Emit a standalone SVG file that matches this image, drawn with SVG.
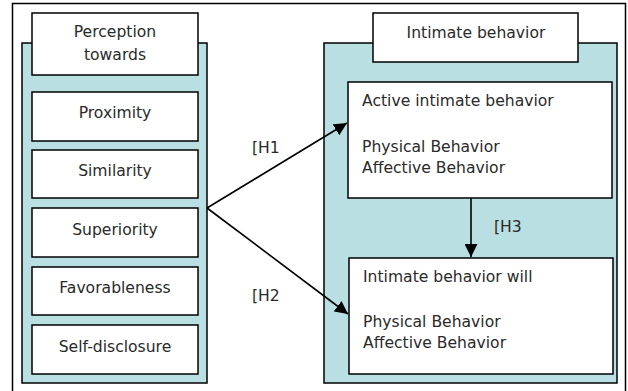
<svg xmlns="http://www.w3.org/2000/svg" width="628" height="391" viewBox="0 0 628 391">
<defs>
<style>
.box{fill:#fff;stroke:#000;stroke-width:1.5}
.panel{fill:#B9DFE2;stroke:#000;stroke-width:1.5}
.t{font-family:"DejaVu Sans",sans-serif;font-size:15.6px;fill:#2a2a2a}
.c{text-anchor:middle}
.edge{stroke:#000;stroke-width:1.6;fill:none}
</style>
<marker id="ah" markerWidth="13" markerHeight="13" viewBox="0 0 13 13" refX="13" refY="6.5" orient="auto" markerUnits="userSpaceOnUse">
<path d="M0,0 L13,6.5 L0,13 Z" fill="#000"/>
</marker>
</defs>
<rect x="0" y="0" width="628" height="391" fill="#fff"/>
<rect x="12.5" y="3.5" width="613" height="400" fill="#fff" stroke="#000" stroke-width="1.5"/>
<g id="left-panel">
<rect class="panel" x="22" y="43" width="185" height="340"/>
</g>
<g id="perception">
<rect class="box" x="32" y="13" width="166" height="62"/>
<text class="t c" x="115" y="37">Perception</text>
<text class="t c" x="115" y="60">towards</text>
</g>
<g id="proximity">
<rect class="box" x="32" y="92" width="166" height="49"/>
<text class="t c" x="115" y="117.5">Proximity</text>
</g>
<g id="similarity">
<rect class="box" x="32" y="150" width="166" height="48"/>
<text class="t c" x="115" y="176">Similarity</text>
</g>
<g id="superiority">
<rect class="box" x="32" y="208" width="166" height="49"/>
<text class="t c" x="115" y="234.5">Superiority</text>
</g>
<g id="favorableness">
<rect class="box" x="32" y="267" width="166" height="48"/>
<text class="t c" x="115" y="293">Favorableness</text>
</g>
<g id="self-disclosure">
<rect class="box" x="32" y="325" width="166" height="49"/>
<text class="t c" x="115" y="351.5">Self-disclosure</text>
</g>
<g id="right-panel">
<rect class="panel" x="324" y="43" width="293" height="340"/>
</g>
<g id="intimate-behavior">
<rect class="box" x="373" y="13" width="205" height="49"/>
<text class="t c" x="476" y="38">Intimate behavior</text>
</g>
<g id="active">
<rect class="box" x="348" y="82" width="264" height="116"/>
<text class="t" x="362" y="106">Active intimate behavior</text>
<text class="t" x="362" y="152">Physical Behavior</text>
<text class="t" x="362" y="173">Affective Behavior</text>
</g>
<g id="will">
<rect class="box" x="349" y="258" width="264" height="116"/>
<text class="t" x="363" y="282">Intimate behavior will</text>
<text class="t" x="363" y="327">Physical Behavior</text>
<text class="t" x="363" y="348">Affective Behavior</text>
</g>
<g id="connectors">
<line class="edge" x1="207" y1="208" x2="347" y2="123" marker-end="url(#ah)"/>
<line class="edge" x1="207" y1="208" x2="348" y2="314" marker-end="url(#ah)"/>
<line class="edge" x1="471" y1="198" x2="471" y2="257" stroke-width="2.2" marker-end="url(#ah)"/>
<text class="t" x="252" y="153">[H1</text>
<text class="t" x="252" y="301">[H2</text>
<text class="t" x="494" y="232">[H3</text>
</g>
</svg>
